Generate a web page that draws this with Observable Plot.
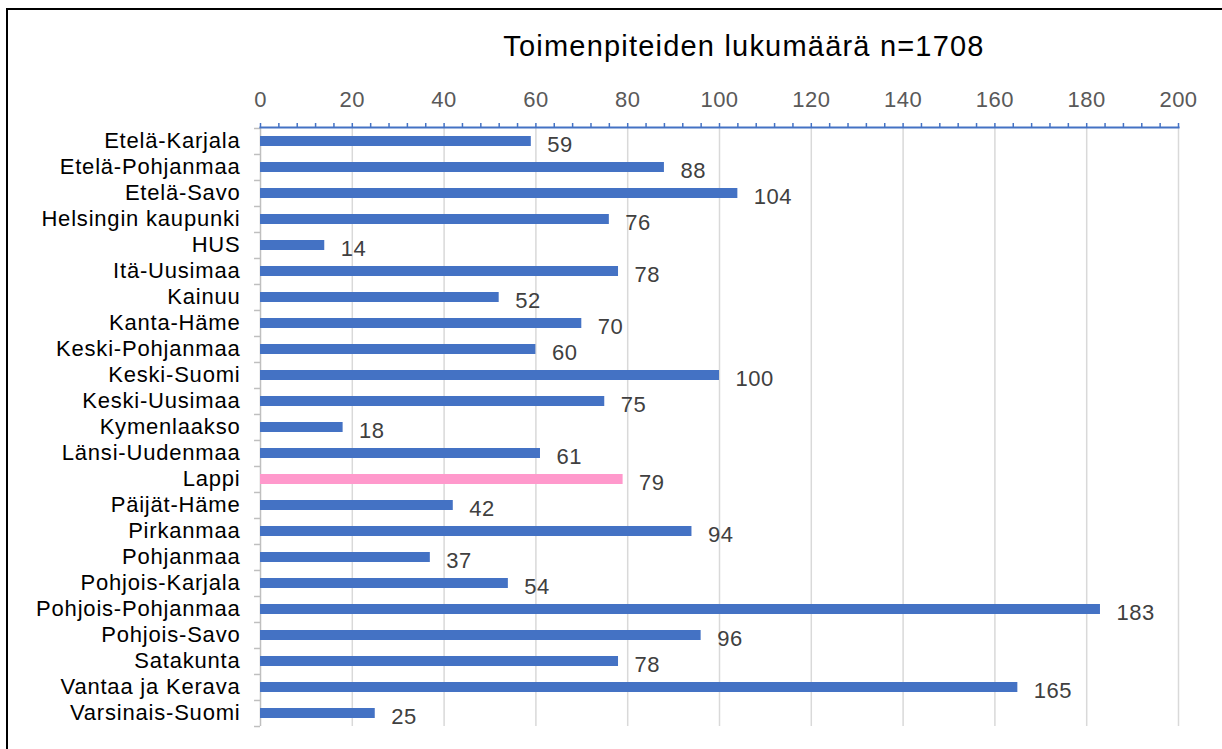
<!DOCTYPE html>
<html>
<head>
<meta charset="utf-8">
<script src="https://cdn.jsdelivr.net/npm/d3@7"></script>
<script src="https://cdn.jsdelivr.net/npm/@observablehq/plot@0.6"></script>
<style>
  html, body { margin: 0; padding: 0; background: #fff; overflow: hidden; width: 1222px; height: 749px; }
  #box { position: absolute; left: 6px; top: 8px; width: 1300px; height: 800px; border: 2px solid #000; box-sizing: border-box; }
  #title { position: absolute; left: 744px; top: 30px; transform: translateX(-50%); white-space: nowrap;
           font-family: "Liberation Sans", Arial, sans-serif; font-size: 29px; letter-spacing: 1.2px; color: #000; }
  #chart { position: absolute; left: 0; top: 0; }
  #chart svg text { letter-spacing: 0.5px; }
  #chart svg g[aria-label="y-axis tick label"] text { letter-spacing: 0.8px; }
</style>
</head>
<body>
<div id="box"></div>
<div id="title">Toimenpiteiden lukumäärä n=1708</div>
<div id="chart"></div>
<script>
const regions = ["Etelä-Karjala","Etelä-Pohjanmaa","Etelä-Savo","Helsingin kaupunki","HUS","Itä-Uusimaa","Kainuu","Kanta-Häme","Keski-Pohjanmaa","Keski-Suomi","Keski-Uusimaa","Kymenlaakso","Länsi-Uudenmaa","Lappi","Päijät-Häme","Pirkanmaa","Pohjanmaa","Pohjois-Karjala","Pohjois-Pohjanmaa","Pohjois-Savo","Satakunta","Vantaa ja Kerava","Varsinais-Suomi"];
const values = [59,88,104,76,14,78,52,70,60,100,75,18,61,79,42,94,37,54,183,96,78,165,25];
const highlight = "Lappi";
const xTicks = [0,20,40,60,80,100,120,140,160,180,200];
const minorTicks = d3.range(0, 201, 4);

const data = regions.map((r, i) => ({region: r, value: values[i]}));

const W = 1222, H = 749, mL = 260, mR = 44, mT = 127, mB = 23;
const step = (H - mT - mB) / regions.length;

const chart = Plot.plot({
  width: W, height: H,
  marginLeft: mL, marginRight: mR, marginTop: mT, marginBottom: mB,
  style: {fontFamily: "'Liberation Sans', Arial, sans-serif", background: "transparent", overflow: "visible"},
  x: {domain: [0, 200]},
  y: {domain: regions, paddingInner: 0.62, paddingOuter: 0.31},
  color: {type: "identity"},
  marks: [
    Plot.ruleX(xTicks.slice(1), {stroke: "#D9D9D9", strokeWidth: 1.5}),
    Plot.ruleX([0], {stroke: "#BFBFBF", strokeWidth: 1.5}),
    Plot.ruleY(regions, {x1: -1.3, x2: 0, dy: -step / 2, stroke: "#BFBFBF", strokeWidth: 1.5}),
    Plot.ruleY([regions[regions.length - 1]], {x1: -1.3, x2: 0, dy: step / 2, stroke: "#BFBFBF", strokeWidth: 1.5}),
    Plot.barX(data, {y: "region", x: "value", fill: d => d.region === highlight ? "#FF99CC" : "#4472C4"}),
    Plot.text(data, {y: "region", x: "value", text: d => String(d.value), textAnchor: "start", dx: 16, dy: 3, fontSize: 22, fill: "#404040"}),
    Plot.axisY({tickSize: 0, tickPadding: 20, dy: -1, fontSize: 22, color: "#000", label: null}),
    Plot.axisX({anchor: "top", ticks: minorTicks, tickSize: 5, tickFormat: () => "", stroke: "#4472C4", strokeWidth: 1.5, label: null}),
    Plot.axisX({anchor: "top", ticks: xTicks, tickSize: 0, tickPadding: 21, fontSize: 22, color: "#595959", label: null}),
    Plot.frame({anchor: "top", stroke: "#4472C4", strokeWidth: 2})
  ]
});
document.getElementById("chart").appendChild(chart);
</script>
</body>
</html>
